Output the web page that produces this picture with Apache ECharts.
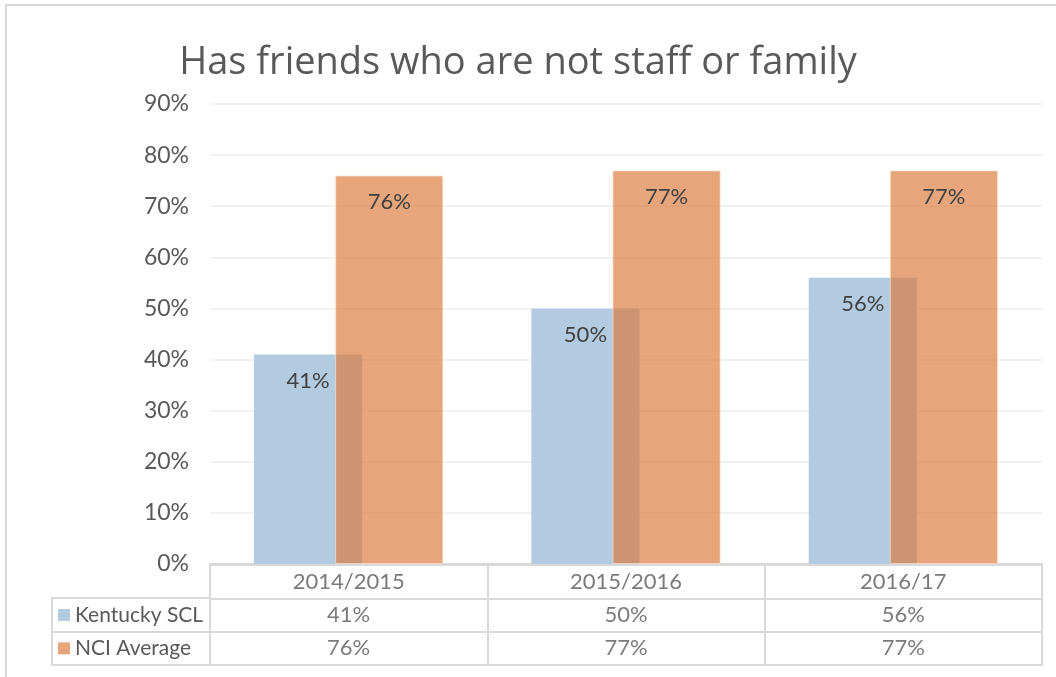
<!DOCTYPE html>
<html>
<head>
<meta charset="utf-8">
<script src="https://cdn.jsdelivr.net/npm/echarts@6/dist/echarts.min.js"></script>
<style>
  html, body { margin: 0; padding: 0; background: #ffffff; }
  #chart { width: 1056px; height: 677px; }
</style>
</head>
<body>
<div id="chart"></div>
<script>
// Survey periods and series values (percent)
const categories = ['2014/2015', '2015/2016', '2016/17'];
const seriesNames = ['Kentucky SCL', 'NCI Average'];
const kentuckySCL = [41, 50, 56];
const nciAverage = [76, 77, 77];
const yTicks = { min: 0, max: 90, interval: 10 };

const FONT = 'Lato, "Open Sans", sans-serif';
const TITLE_FONT = '"Open Sans", Lato, sans-serif';
const TEXT = '#595959';
const BLUE = '#b3cbe0';
const ORANGE = 'rgba(218,121,58,0.67)';
const LINE = '#d9d9d9';

// Cells of the data table: header row, then one row per series
const tableRows = ['', seriesNames[0], seriesNames[1]];
const tableData = [];
categories.forEach((c, i) => {
  tableData.push({ name: c, value: [i, 0] });
  tableData.push({ name: kentuckySCL[i] + '%', value: [i, 1] });
  tableData.push({ name: nciAverage[i] + '%', value: [i, 2] });
});

const chart = echarts.init(document.getElementById('chart'), null, { renderer: 'canvas' });

chart.setOption({
  backgroundColor: '#ffffff',
  animation: false,
  textStyle: { fontFamily: FONT },
  title: {
    text: 'Has friends who are not staff or family',
    left: 513,
    textAlign: 'center',
    top: 39,
    textStyle: { fontFamily: TITLE_FONT, fontSize: 38, fontWeight: 'normal', color: TEXT }
  },
  graphic: [{
    type: 'rect',
    silent: true,
    shape: { x: 6, y: 5, width: 1100, height: 700 },
    style: { fill: 'none', stroke: LINE, lineWidth: 2 }
  }],
  grid: [
    { left: 210, right: 14, top: 104, bottom: 113 },
    { left: 210, right: 14, top: 565, bottom: 12, show: true, borderColor: LINE, borderWidth: 2, backgroundColor: 'transparent' },
    { left: 52, width: 158, top: 598, bottom: 12, show: true, borderColor: LINE, borderWidth: 2, backgroundColor: 'transparent' }
  ],
  xAxis: [
    {
      gridIndex: 0, type: 'category', data: categories,
      axisLine: { show: true, lineStyle: { color: LINE, width: 2 } },
      axisTick: { show: false }, axisLabel: { show: false }
    },
    {
      gridIndex: 1, type: 'category', data: categories,
      axisLine: { show: false }, axisTick: { show: false }, axisLabel: { show: false },
      splitLine: { show: true, lineStyle: { color: LINE, width: 2 } }
    },
    {
      gridIndex: 2, type: 'value', min: 0, max: 1, show: false
    }
  ],
  yAxis: [
    {
      gridIndex: 0, type: 'value', min: yTicks.min, max: yTicks.max, interval: yTicks.interval,
      axisLine: { show: false }, axisTick: { show: false },
      axisLabel: { formatter: '{value}%', fontSize: 23, color: TEXT, margin: 21, fontFamily: FONT },
      splitLine: { show: true, lineStyle: { color: '#ececec', width: 1.5 } }
    },
    {
      gridIndex: 1, type: 'category', data: tableRows, inverse: true,
      axisLine: { show: false }, axisTick: { show: false },
      splitLine: { show: true, lineStyle: { color: LINE, width: 2 } },
      axisLabel: {
        show: true, align: 'left', margin: 152,
        formatter: (v, i) => i === 0 ? '' : '{m' + i + '|}{t|' + v + '}',
        rich: {
          m1: { width: 12, height: 12, backgroundColor: BLUE },
          m2: { width: 12, height: 12, backgroundColor: ORANGE },
          t: { fontSize: 21, color: TEXT, fontFamily: FONT, padding: [0, 0, 0, 5] }
        }
      }
    },
    {
      gridIndex: 2, type: 'category', data: seriesNames, inverse: true,
      axisLine: { show: false }, axisTick: { show: false }, axisLabel: { show: false },
      splitLine: { show: true, lineStyle: { color: LINE, width: 2 } }
    }
  ],
  series: [
    {
      name: seriesNames[0], type: 'bar', xAxisIndex: 0, yAxisIndex: 0,
      data: kentuckySCL, barWidth: '39%', barGap: '-25%',
      itemStyle: { color: BLUE },
      label: { show: true, position: 'insideTop', distance: 15, formatter: '{c}%', fontSize: 22, color: '#404040', fontFamily: FONT }
    },
    {
      name: seriesNames[1], type: 'bar', xAxisIndex: 0, yAxisIndex: 0,
      data: nciAverage, barWidth: '39%', barGap: '-25%',
      itemStyle: { color: ORANGE, borderColor: 'rgba(255,225,205,0.7)', borderWidth: 1 },
      label: { show: true, position: 'insideTop', distance: 15, formatter: '{c}%', fontSize: 22, color: '#404040', fontFamily: FONT }
    },
    {
      name: 'table', type: 'scatter', xAxisIndex: 1, yAxisIndex: 1,
      data: tableData, symbolSize: 0, silent: true,
      label: { show: true, position: 'inside', formatter: '{b}', fontSize: 22, color: TEXT, fontFamily: FONT }
    }
  ]
});
</script>
</body>
</html>
